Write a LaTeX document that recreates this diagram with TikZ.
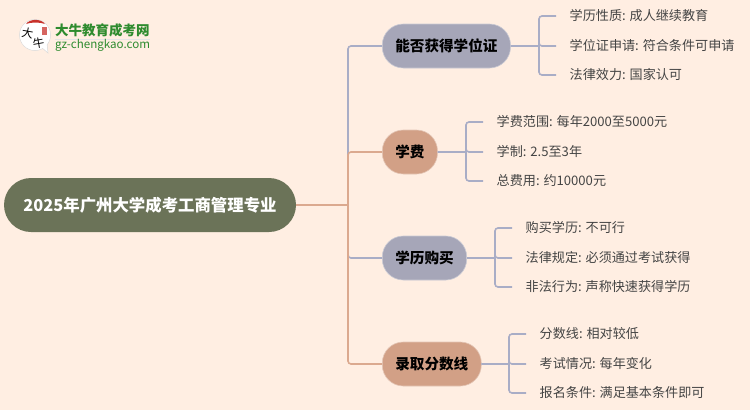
\documentclass[tikz,border=0pt]{standalone}
\usepackage{fontspec}
\setmainfont{Noto Sans CJK SC}
\definecolor{bgpage}{HTML}{FFEEE2}
\definecolor{mainfill}{HTML}{6B7358}
\definecolor{bluefill}{HTML}{A6A6B8}
\definecolor{orangefill}{HTML}{D2A086}
\definecolor{blueline}{HTML}{A9ADC6}
\definecolor{orangeline}{HTML}{DBA98F}
\definecolor{leaftext}{HTML}{444444}
\definecolor{logogreen}{HTML}{2E8B2E}
\definecolor{logored}{HTML}{C8322B}
\tikzset{
  topic/.style={rounded corners=21pt,minimum height=44pt,inner xsep=13pt,inner ysep=0pt,anchor=west,
    text height=11.5pt,text depth=1.5pt,
    draw=white!40!#1,line width=.6pt,fill=#1,font=\fontsize{14.6}{16}\selectfont\bfseries,text=black},
  leaf/.style={anchor=west,inner xsep=13.5pt,inner ysep=0pt,text height=11pt,text depth=2pt,
    font=\fontsize{13.1}{16}\selectfont,text=leaftext},
  branch/.style={draw=#1,line width=1.6pt,rounded corners=3pt},
}
\begin{document}
\begin{tikzpicture}[x=1pt,y=-1pt]
    \useasboundingbox (0,0) rectangle (750,410);
    \fill[bgpage] (0,0) rectangle (750,410);

    % logo
    \fill[white,draw=black!15,line width=.5pt] (35,35) circle (15.5);
    \fill[white,draw=black!15,line width=.5pt] (41,47) -- (48,53) -- (47,43) -- cycle;
    \fill[white] (35,35) circle (15);
    \fill[logored] (26,24) .. controls (30,18.5) and (41,18.5) .. (45,24) .. controls (40,22) and (31,22) .. (26,24);
    \fill[logored!75] (42,27) rectangle (47,35);
    \node[rotate=-10,inner sep=0pt,font=\fontsize{11.5}{12}\selectfont] (logoa) at (27.5,33) {大};
    \node[rotate=10,inner sep=0pt,font=\fontsize{11.5}{12}\selectfont] (logob) at (38.5,43) {牛};
    \node[anchor=west,inner sep=0pt,text=logogreen,font=\fontsize{13.5}{14}\selectfont\bfseries] (logoname) at (55,30) {大牛教育成考网};
    \fill[black!10] (55,39) rectangle (150,40);
    \node[anchor=west,inner sep=0pt,text=logogreen,font=\fontsize{11.6}{12}\selectfont] (logourl) at (55,45) {gz-chengkao.com};

    \node[rounded corners=27pt,minimum width=292pt,minimum height=54pt,inner sep=0pt,fill=mainfill,
        text=white,font=\fontsize{16.4}{18}\selectfont\bfseries] (main) at (150,205) {2025年广州大学成考工商管理专业};
    \coordinate (trunk) at (348,205);

    \node[topic=bluefill] (degree) at (382,46) {能否获得学位证};
    \node[topic=orangefill] (fee) at (382,152) {学费};
    \node[topic=bluefill] (buy) at (382,258) {学历购买};
    \node[topic=orangefill] (score) at (382,364) {录取分数线};

    \draw[branch=blueline] (trunk) |- (degree.west);
    \draw[branch=blueline] (trunk) |- (buy.west);
    \draw[branch=orangeline] (main.east) -- (trunk) (trunk) |- (fee.west);
    \draw[branch=orangeline] (trunk) |- (score.west);

    \foreach \n/\y/\t in {a/16/学历性质: 成人继续教育,b/46/学位证申请: 符合条件可申请,c/75/法律效力: 国家认可}
        {\node[leaf] (degree\n) at (556,\y) {\t};
         \coordinate (degreefork) at (539,46);
         \draw[branch=blueline] (degree.east) -- (degreefork) (degreefork) |- (degree\n.west);}
    \foreach \n/\y/\t in {a/122/学费范围: 每年2000至5000元,b/152/学制: 2.5至3年,c/181/总费用: 约10000元}
        {\node[leaf] (fee\n) at (483,\y) {\t};
         \coordinate (feefork) at (466,152);
         \draw[branch=blueline] (fee.east) -- (feefork) (feefork) |- (fee\n.west);}
    \foreach \n/\y/\t in {a/228/购买学历: 不可行,b/258/法律规定: 必须通过考试获得,c/287/非法行为: 声称快速获得学历}
        {\node[leaf] (buy\n) at (512,\y) {\t};
         \coordinate (buyfork) at (495,258);
         \draw[branch=blueline] (buy.east) -- (buyfork) (buyfork) |- (buy\n.west);}
    \foreach \n/\y/\t in {a/334/分数线: 相对较低,b/364/考试情况: 每年变化,c/393/报名条件: 满足基本条件即可}
        {\node[leaf] (score\n) at (526,\y) {\t};
         \coordinate (scorefork) at (509,364);
         \draw[branch=blueline] (score.east) -- (scorefork) (scorefork) |- (score\n.west);}
\end{tikzpicture}
\end{document}
